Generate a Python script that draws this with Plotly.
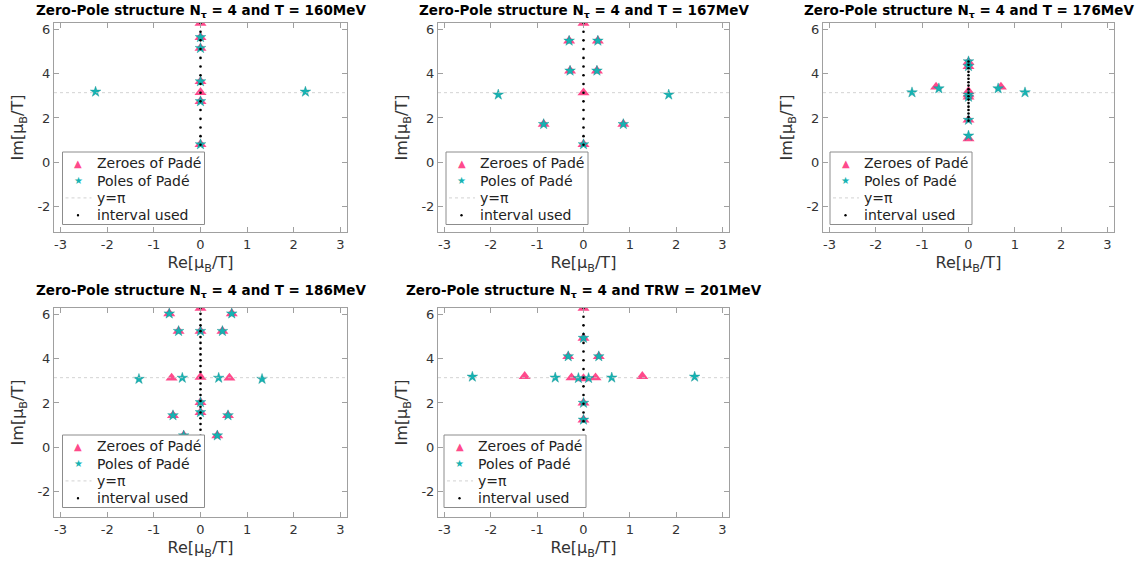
import plotly.graph_objects as go

# ---------------- data ----------------
titles = [
    "Zero-Pole structure N<sub>τ</sub> = 4 and T = 160MeV",
    "Zero-Pole structure N<sub>τ</sub> = 4 and T = 167MeV",
    "Zero-Pole structure N<sub>τ</sub> = 4 and T = 176MeV",
    "Zero-Pole structure N<sub>τ</sub> = 4 and T = 186MeV",
    "Zero-Pole structure N<sub>τ</sub> = 4 and TRW = 201MeV",
]
legend_labels = ["Zeroes of Padé", "Poles of Padé", "y=π", "interval used"]

# T = 160 MeV
zeros160_re = [0, 0, 0, 0, 0, 0, 0]
zeros160_im = [6.28, 5.64, 5.15, 3.65, 3.16, 2.75, 0.81]
poles160_re = [0, 0, 0, 0, 0, -2.25, 2.25]
poles160_im = [5.64, 5.15, 3.65, 2.75, 0.81, 3.18, 3.18]
interval160 = [0.79, 1.18, 1.57, 1.96, 2.36, 2.75, 3.14, 3.53, 3.93, 4.32, 4.71, 5.11, 5.50, 5.89, 6.28]

# T = 167 MeV
zeros167_re = [0, -0.31, 0.31, -0.29, 0.29, 0, -0.86, 0.86, 0]
zeros167_im = [6.28, 5.48, 5.48, 4.13, 4.13, 3.14, 1.72, 1.72, 0.81]
poles167_re = [-0.31, 0.31, -0.29, 0.29, -1.84, 1.84, -0.86, 0.86, 0]
poles167_im = [5.48, 5.48, 4.13, 4.13, 3.05, 3.05, 1.72, 1.72, 0.81]
interval167 = [0.79, 1.18, 1.57, 1.96, 2.36, 2.75, 3.14, 3.53, 3.93, 4.32, 4.71, 5.11, 5.50, 5.89, 6.28]

# T = 176 MeV
zeros176_re = [0, 0, -0.70, 0.70, 0, 0, 0, 0, 0]
zeros176_im = [4.52, 4.33, 3.40, 3.40, 3.20, 3.05, 2.95, 1.91, 1.07]
poles176_re = [0, 0, -0.64, 0.64, -1.22, 1.22, 0, 0, 0, 0]
poles176_im = [4.55, 4.33, 3.33, 3.33, 3.15, 3.15, 3.05, 2.95, 1.91, 1.20]
interval176 = [1.88, 2.04, 2.20, 2.36, 2.51, 2.67, 2.83, 2.98, 3.14, 3.30, 3.46, 3.61, 3.77, 3.93, 4.08, 4.24, 4.40, 4.55]

# T = 186 MeV
zeros186_re = [0, -0.67, 0.67, -0.47, 0.47, 0, -0.62, 0.62, 0, 0, 0, -0.59, 0.59, -0.36, 0.36]
zeros186_im = [6.28, 6.03, 6.03, 5.24, 5.24, 5.24, 3.13, 3.13, 3.17, 2.03, 1.58, 1.44, 1.44, 0.53, 0.53]
poles186_re = [-0.67, 0.67, -0.47, 0.47, 0, -1.32, 1.32, -0.39, 0.39, 0, 0, -0.59, 0.59, -0.36, 0.36]
poles186_im = [6.03, 6.03, 5.24, 5.24, 5.24, 3.08, 3.08, 3.13, 3.13, 2.03, 1.58, 1.44, 1.44, 0.53, 0.53]
interval186 = [0.26, 0.52, 0.79, 1.05, 1.31, 1.57, 1.83, 2.09, 2.36, 2.62, 2.88, 3.14, 3.40, 3.67,
               3.93, 4.19, 4.45, 4.71, 4.97, 5.24, 5.50, 5.76, 6.02, 6.28]

# TRW = 201 MeV
zeros201_re = [0, 0, -0.33, 0.33, -1.27, 1.27, -0.26, 0.26, 0, 0, 0]
zeros201_im = [6.28, 4.93, 4.10, 4.10, 3.20, 3.20, 3.14, 3.14, 3.10, 2.00, 1.24]
poles201_re = [0, -0.33, 0.33, -2.40, 2.40, -0.61, 0.61, -0.11, 0.11, 0, 0]
poles201_im = [4.93, 4.10, 4.10, 3.18, 3.18, 3.14, 3.14, 3.12, 3.12, 2.00, 1.24]
interval201 = [0.79, 1.18, 1.57, 1.96, 2.36, 2.75, 3.14, 3.53, 3.93, 4.32, 4.71, 5.11, 5.50, 5.89, 6.28]

panels = [
    (zeros160_re, zeros160_im, poles160_re, poles160_im, interval160),
    (zeros167_re, zeros167_im, poles167_re, poles167_im, interval167),
    (zeros176_re, zeros176_im, poles176_re, poles176_im, interval176),
    (zeros186_re, zeros186_im, poles186_re, poles186_im, interval186),
    (zeros201_re, zeros201_im, poles201_re, poles201_im, interval201),
]

x_ticks = [-3, -2, -1, 0, 1, 2, 3]
x_ticktext = ["-3", "-2", "-1", "0", "1", "2", "3"]
y_ticks = [-2, 0, 2, 4, 6]
y_ticktext = ["-2", "0", "2", "4", "6"]
PI = 3.141592653589793

# ---------------- layout geometry (pixels) ----------------
W, H = 1145, 564
col_px = [(54, 347), (438, 729), (823, 1114)]
row_px = [(23, 232), (308, 517)]
legend_box = [(62.5, 152), (446, 152), (830, 152), (62.5, 435), (444, 435)]
title_top = [0, 280]
LEG_W, LEG_H, LEG_STEP = 142, 72.5, 17.3

ZERO_COLOR = "#ff4a8c"
POLE_COLOR = "#16b3b3"
FONT = "DejaVu Sans"


def px_x(v):
    return v / W


def px_y(v):
    return 1 - v / H


fig = go.Figure()
shapes = []
annotations = []

for i, (zr, zi, pr, pi_, iv) in enumerate(panels):
    r, c = divmod(i, 3)
    ax = "" if i == 0 else str(i + 1)
    xref, yref = "x" + ax, "y" + ax
    fig.add_trace(go.Scatter(x=zr, y=zi, mode="markers", name=legend_labels[0],
                             marker=dict(symbol="triangle-up", size=10.5, color=ZERO_COLOR),
                             xaxis=xref, yaxis=yref, showlegend=False))
    fig.add_trace(go.Scatter(x=pr, y=pi_, mode="markers", name=legend_labels[1],
                             marker=dict(symbol="star", size=8, color=POLE_COLOR,
                                         line=dict(width=0.4, color="#0e8f8f")),
                             xaxis=xref, yaxis=yref, showlegend=False))
    fig.add_trace(go.Scatter(x=[-PI, PI], y=[PI, PI], mode="lines", name=legend_labels[2],
                             line=dict(color="#c8c8c8", width=0.8, dash="dot"),
                             xaxis=xref, yaxis=yref, showlegend=False))
    fig.add_trace(go.Scatter(x=[0] * len(iv), y=iv, mode="markers", name=legend_labels[3],
                             marker=dict(symbol="circle", size=2.6, color="black"),
                             xaxis=xref, yaxis=yref, showlegend=False))

    x0, x1 = col_px[c]
    y0, y1 = row_px[r]
    axis_common = dict(showgrid=False, zeroline=False, showline=True, linecolor="#a0a0a0",
                       linewidth=1, mirror="ticks", ticks="inside", ticklen=5,
                       tickcolor="#a0a0a0", tickfont=dict(family=FONT, size=13, color="#333333"))
    fig.layout["xaxis" + ax] = dict(
        domain=[x0 / W, x1 / W], range=[-PI, PI], anchor=yref,
        tickvals=x_ticks, ticktext=x_ticktext,
        title=dict(text="Re[μ<sub>B</sub>/T]", font=dict(family=FONT, size=16, color="#333333"),
                   standoff=6),
        **axis_common)
    fig.layout["yaxis" + ax] = dict(
        domain=[1 - y1 / H, 1 - y0 / H], range=[-PI, 2 * PI], anchor=xref,
        tickvals=y_ticks, ticktext=y_ticktext,
        title=dict(text="Im[μ<sub>B</sub>/T]", font=dict(family=FONT, size=16, color="#333333"),
                   standoff=9),
        **axis_common)

    # title
    annotations.append(dict(text="<b>" + titles[i] + "</b>", x=px_x((x0 + x1) / 2), y=px_y(title_top[r]),
                            xref="paper", yref="paper", xanchor="center", yanchor="top",
                            showarrow=False, font=dict(family=FONT, size=13.5, color="black")))

    # legend box (drawn on top of the data, like the original)
    L, T = legend_box[i]
    shapes.append(dict(type="rect", xref="paper", yref="paper", layer="above",
                       x0=px_x(L), x1=px_x(L + LEG_W), y0=px_y(T + LEG_H), y1=px_y(T),
                       fillcolor="white", line=dict(color="#8c8c8c", width=1)))
    sym_x = L + 15.5
    txt_x = L + 32
    rows = [T + 11.3 + k * LEG_STEP for k in range(4)]
    annotations.append(dict(text="▲", x=px_x(sym_x), y=px_y(rows[0]), xref="paper", yref="paper",
                            xanchor="center", yanchor="middle", showarrow=False,
                            font=dict(family=FONT, size=10, color=ZERO_COLOR)))
    annotations.append(dict(text="★", x=px_x(sym_x), y=px_y(rows[1]), xref="paper", yref="paper",
                            xanchor="center", yanchor="middle", showarrow=False,
                            font=dict(family=FONT, size=10, color=POLE_COLOR)))
    shapes.append(dict(type="line", xref="paper", yref="paper", layer="above",
                       x0=px_x(L + 3), x1=px_x(L + 29), y0=px_y(rows[2]), y1=px_y(rows[2]),
                       line=dict(color="#c8c8c8", width=0.8, dash="dot")))
    shapes.append(dict(type="circle", xref="paper", yref="paper", layer="above",
                       x0=px_x(sym_x - 1.2), x1=px_x(sym_x + 1.2),
                       y0=px_y(rows[3] + 1.2), y1=px_y(rows[3] - 1.2),
                       fillcolor="black", line=dict(color="black", width=0)))
    for k, lab in enumerate(legend_labels):
        annotations.append(dict(text=lab, x=px_x(txt_x), y=px_y(rows[k]), xref="paper", yref="paper",
                                xanchor="left", yanchor="middle", showarrow=False,
                                font=dict(family=FONT, size=14, color="#222222")))

fig.update_layout(width=W, height=H, margin=dict(l=0, r=0, t=0, b=0),
                  paper_bgcolor="white", plot_bgcolor="white", showlegend=False,
                  shapes=shapes, annotations=annotations)

fig.write_html("out.html", config={"displayModeBar": False},
               post_script="document.body.style.margin='0px';")
